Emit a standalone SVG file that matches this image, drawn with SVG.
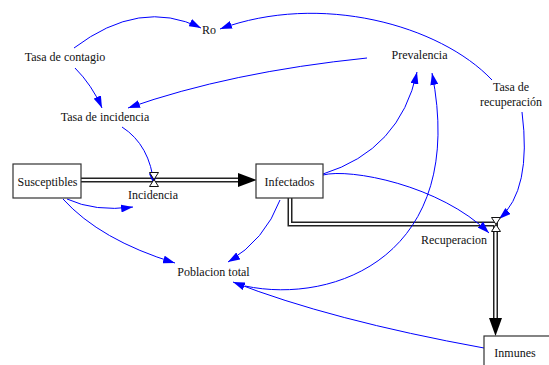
<svg xmlns="http://www.w3.org/2000/svg" width="549" height="365" viewBox="0 0 549 365">
<style>
text{font-family:"Liberation Serif","Times New Roman",serif;font-size:12px;fill:#111;text-anchor:middle}
.box{fill:#fff;stroke:#333;stroke-width:1.2}
.lnk{fill:none;stroke:#0000ff;stroke-width:1;marker-end:url(#ah)}
.pipeO{fill:none;stroke:#222;stroke-width:5;stroke-linejoin:miter}
.pipeI{fill:none;stroke:#fff;stroke-width:2;stroke-linejoin:miter}
.valve{fill:#fff;stroke:#111;stroke-width:1}
</style>
<defs>
<marker id="ah" markerUnits="userSpaceOnUse" markerWidth="12" markerHeight="8" refX="12" refY="4" orient="auto">
<path d="M0,0 L12,4 L0,8 Z" fill="#0000ff"/>
</marker>
</defs>
<rect width="549" height="365" fill="#fff"/>

<g id="flows">
<path class="pipeO" d="M81,180 H239"/>
<path class="pipeI" d="M81,180 H240"/>
<path d="M238,173 L257,180 L238,187 Z" fill="#000"/>
<path class="pipeO" d="M290,198 V224 H495.5 V319"/>
<path class="pipeI" d="M290,197 V224 H495.5 V320"/>
<path d="M489,318 L502,318 L495.5,336 Z" fill="#000"/>
</g>

<g id="connectors">
<path class="lnk" d="M74,48 Q140,-2 201,28"/>
<path class="lnk" d="M492,80 C440,25 320,-8 220,29"/>
<path class="lnk" d="M75,68 Q92,85 102,108"/>
<path class="lnk" d="M367,58 Q230,72 128,108"/>
<path class="lnk" d="M122,127 Q150,145 154,185"/>
<path class="lnk" d="M67,199 Q95,212 133,207"/>
<path class="lnk" d="M63,199 Q100,240 175,263"/>
<path class="lnk" d="M280,200 Q265,240 228,262"/>
<path class="lnk" d="M323,174 Q400,150 417,72"/>
<path class="lnk" d="M323,175 C350,168 440,185 489,233"/>
<path class="lnk" d="M522,112 Q532,190 499,219"/>
<path class="lnk" d="M245,286 C335,305 468,255 432,73"/>
<path class="lnk" d="M484,348 Q330,320 233,282"/>
</g>

<g id="Susceptibles">
<rect class="box" x="13" y="164" width="68" height="34"/>
<text x="47.5" y="186">Susceptibles</text>
</g>
<g id="Infectados">
<rect class="box" x="256" y="164" width="67" height="34"/>
<text x="289.5" y="186">Infectados</text>
</g>
<g id="Inmunes">
<rect class="box" x="484" y="336" width="100" height="50"/>
<text x="515" y="357">Inmunes</text>
</g>
<g id="Incidencia">
<path class="valve" d="M149.5,172.5 H158.5 L149.5,186.5 H158.5 Z"/>
<text x="153" y="199">Incidencia</text>
</g>
<g id="Recuperacion">
<path class="valve" d="M491.5,217.5 H500.5 L491.5,231.5 H500.5 Z"/>
<text x="454" y="244">Recuperacion</text>
</g>
<g id="Ro"><text x="209" y="34">Ro</text></g>
<g id="TasaContagio"><text x="65" y="61">Tasa de contagio</text></g>
<g id="TasaIncidencia"><text x="105" y="121">Tasa de incidencia</text></g>
<g id="Prevalencia"><text x="419.5" y="59">Prevalencia</text></g>
<g id="TasaRecuperacion"><text x="511" y="91">Tasa de</text><text x="511" y="106">recuperación</text></g>
<g id="PoblacionTotal"><text x="213.5" y="276">Poblacion total</text></g>
</svg>
